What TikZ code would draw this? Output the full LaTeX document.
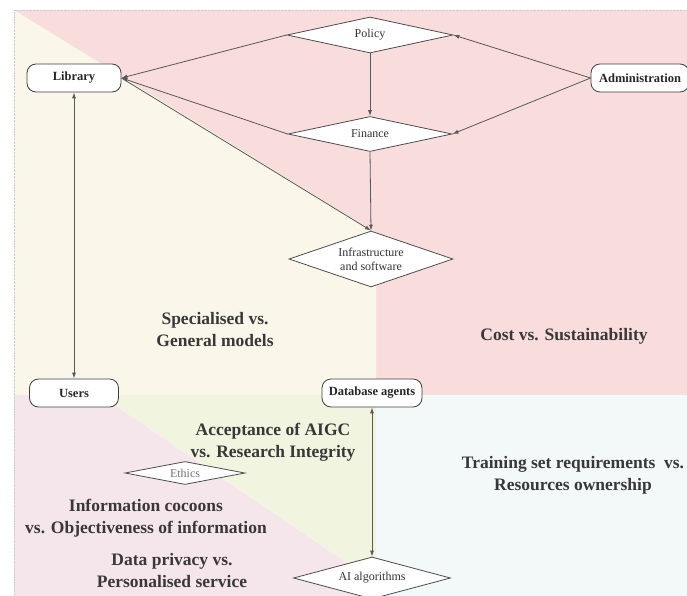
\documentclass[tikz,border=0pt]{standalone}
\usepackage{fontspec}
\setmainfont{Liberation Serif}
\usetikzlibrary{shapes.geometric, arrows.meta}
\definecolor{costpink}{HTML}{F9DCDC}
\definecolor{modelcream}{HTML}{FAF7EA}
\definecolor{ethicsgreen}{HTML}{F1F4DE}
\definecolor{privacypink}{HTML}{F5E6EC}
\definecolor{trainblue}{HTML}{F3F8F9}

\begin{document}
\begin{tikzpicture}[x=1pt,y=-1pt,>={Latex[length=6pt,width=4pt]},
    actor/.style={draw=black!75, fill=white, rounded corners=9pt, minimum height=28pt, line width=0.8pt, font=\fontsize{12.5}{14}\selectfont\bfseries, text=black!85},
    factor/.style={diamond, aspect=3, draw=black!70, fill=white, inner sep=0pt, line width=0.8pt, font=\fontsize{12}{14}\selectfont, text=black!80},
    link/.style={draw=black!65, line width=0.8pt},
    dilemma/.style={align=center, font=\fontsize{17.5}{22}\selectfont\bfseries, text=black!78}]

            \useasboundingbox (0,0) rectangle (687,596);

            % draw the coloured regions
            \fill[costpink] (14,10) rectangle (687,395);
            \fill[modelcream] (14,10) -- (376,233) -- (376,395) -- (14,395) -- cycle;
            \fill[privacypink] (14,395) -- (100,395) -- (372,580) -- (372,596) -- (14,596) -- cycle;
            \fill[ethicsgreen] (100,395) -- (376,395) -- (376,580) -- (372,580) -- cycle;
            \fill[trainblue] (376,395) rectangle (687,596);
            \draw[densely dotted, black!20] (14,596) -- (14,10) -- (687,10);

            % the actors
            \node[actor, minimum width=94pt] (library) at (74,78) {Library};
            \node[actor, minimum width=98pt] (admin) at (640,78) {Administration};
            \node[actor, minimum width=89pt] (users) at (74,393) {Users};
            \node[actor, minimum width=100pt] (agents) at (372,393) {Database agents};

            % the factors
            \node[factor, minimum width=166pt, minimum height=36pt] (policy) at (370,35) {Policy};
            \node[factor, minimum width=164pt, minimum height=35pt] (finance) at (370,134) {Finance};
            \node[factor, minimum width=164pt, minimum height=56pt, align=center] (infra) at (371,259) {Infrastructure\\and software};
            \node[factor, minimum width=120pt, minimum height=23pt, text=black!55] (ethics) at (185,473) {Ethics};
            \node[factor, minimum width=157pt, minimum height=42pt] (algos) at (372,578) {AI algorithms};

            % arrows
            \draw[link, ->] (policy.west) -- (library.east);
            \draw[link, ->] (finance.west) -- (library.east);
            \draw[link, ->] (library.east) -- (infra.north);
            \draw[link, ->] (admin.west) -- (policy.east);
            \draw[link, ->] (admin.west) -- (finance.east);
            \draw[link, ->] (policy.south) -- (finance.north);
            \draw[link, ->] (finance.south) -- (infra.north);
            \draw[link, <->] (library.south) -- (users.north);
            \draw[link, <->] (agents.south) -- (algos.north);

            % text in the regions
            \node[dilemma] (models) at (215,330) {Specialised vs.\\General models};
            \node[dilemma] (cost) at (564,336) {Cost vs. Sustainability};
            \node[dilemma] (aigc) at (273,442) {Acceptance of AIGC\\vs. Research Integrity};
            \node[dilemma] (training) at (573,475) {Training set requirements\ \ vs.\\Resources ownership};
            \node[dilemma] (cocoons) at (146,518) {Information cocoons\\vs. Objectiveness of information};
            \node[dilemma] (privacy) at (172,571) {Data privacy vs.\\Personalised service};
        \end{tikzpicture}
\end{document}
